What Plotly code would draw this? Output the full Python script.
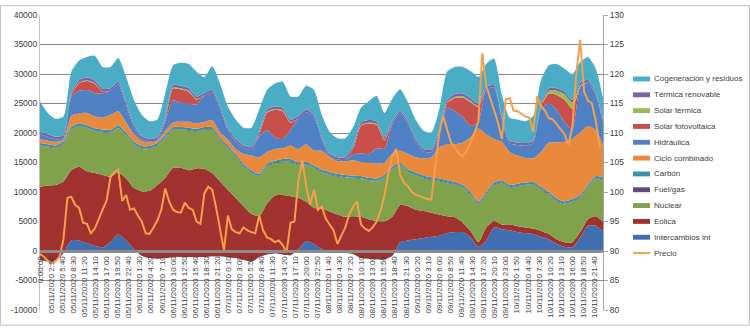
import pandas as pd
import plotly.graph_objects as go

# Generation mix sampled every 2 h (MW); last sample is 10/11/2020 23:50
gen_time = list(pd.date_range("2020-11-05 00:00", periods=72, freq="2h")) + [pd.Timestamp("2020-11-10 23:50")]
# Hourly price (EUR/MWh)
price_time = list(pd.date_range("2020-11-05 00:00", periods=144, freq="h"))

intercambios = [-1500, -1800, -1800, -300, 1800, 1800, 1300, 900, 600, 1500, 2800, 1800, 400,
                -800, -1200, -1300, -1200, -1000, -1000, -1000, -1000, -1000, -900, -900, -1000,
                -1200, -1500, -1800, -1000, -600, -400, -600, -700, 300, 1700, 1200, 300,
                -200, -300, -300, -500, -1200, -1300, -1400, -1400, -800, 1500, 1800, 2000,
                2200, 2400, 2600, 3000, 3200, 3200, 2300, 700, 1800, 4000, 3700, 3500,
                3200, 3000, 2900, 2400, 2000, 1200, 700, 600, 2300, 4300, 4300, 3400]

eolica = [12400, 12900, 13000, 12100, 11900, 12500, 12200, 12300, 12300, 11100, 10500, 10500, 10300,
          10900, 11400, 12500, 13600, 15100, 15100, 14700, 15000, 14900, 14100, 12700, 11400,
          10200, 9100, 8100, 6900, 8600, 9800, 10100, 10000, 8700, 6700, 6100, 6900,
          6900, 6500, 6100, 6400, 7000, 6700, 6500, 6400, 6600, 6300, 5800, 5000,
          4600, 4100, 3600, 2900, 2500, 1600, 1100, 800, 2200, 1100, 800, 1000,
          1000, 1000, 900, 1000, 900, 800, 800, 900, 900, 1100, 1600, 1600]

nuclear = [6900, 6500, 6200, 6300, 6800, 6800, 7300, 7100, 7200, 7400, 7500, 7300, 7300,
           7200, 7100, 6600, 6800, 6400, 6400, 6700, 6200, 6600, 7300, 6900, 7000,
           6900, 6700, 6900, 6700, 6300, 5400, 5600, 5800, 5500, 6200, 6700, 6100,
           6200, 6400, 6600, 6400, 6400, 6500, 6700, 7400, 8000, 6700, 5700, 5800,
           5500, 5500, 5600, 5600, 5500, 5900, 6100, 6400, 5500, 6000, 7000, 6200,
           6700, 7100, 7400, 7000, 6600, 6400, 6400, 6800, 5800, 5300, 6300, 7000]

fuel_gas = [100, 100, 100, 100, 100, 100, 100, 100, 100, 100, 100, 100, 100,
            100, 100, 100, 100, 100, 100, 100, 100, 100, 100, 100, 100,
            100, 100, 100, 100, 100, 100, 100, 100, 100, 100, 100, 100,
            100, 100, 100, 100, 100, 100, 100, 100, 100, 100, 100, 100,
            100, 100, 100, 100, 100, 100, 100, 100, 100, 100, 100, 100,
            100, 100, 100, 100, 100, 100, 100, 100, 100, 100, 100, 100]

carbon = [400, 400, 400, 400, 400, 400, 400, 400, 400, 400, 400, 400, 400,
          400, 400, 400, 400, 400, 400, 400, 400, 400, 400, 400, 400,
          400, 400, 400, 400, 400, 400, 400, 400, 400, 400, 400, 400,
          400, 400, 400, 400, 400, 400, 400, 400, 400, 400, 400, 400,
          400, 400, 400, 400, 400, 400, 400, 400, 400, 400, 400, 400,
          400, 400, 400, 400, 400, 400, 400, 400, 400, 400, 400, 400]

ciclo_combinado = [700, 600, 600, 300, 1900, 1700, 2100, 2000, 2000, 2600, 2400, 1700, 1300,
                   900, 600, 400, 700, 800, 900, 1000, 900, 900, 1200, 900, 1000,
                   900, 1700, 2500, 2800, 2000, 2000, 1800, 2300, 2300, 3000, 2500, 3200,
                   2500, 2150, 2300, 2600, 2400, 2600, 2500, 2100, 2200, 2000, 2700, 2600,
                   2900, 3400, 5300, 6100, 6400, 7200, 9300, 12350, 9800, 7400, 6500, 5600,
                   4800, 4200, 4000, 5900, 8400, 9500, 10100, 10200, 10600, 10000, 7800, 5400]

hidraulica = [750, 650, 450, 250, 3300, 3850, 3900, 4000, 4100, 4050, 4550, 2950, 1250,
              350, 150, 150, 1550, 3750, 3200, 3100, 3250, 4450, 4650, 3950, 1550,
              1250, 950, 950, 3450, 3650, 2000, 1600, 2650, 5150, 5450, 5650, 1850,
              150, 200, 250, 900, 1450, 1400, 2600, 2350, 4950, 6250, 5050, 2650,
              1150, 850, 2450, 6150, 5650, 4300, 1900, 1150, 7600, 8650, 3850, 1450,
              1750, 2050, 2550, 7250, 6650, 5550, 3350, 1650, 7650, 7350, 5850, 3950]

solar_fv = [0, 0, 0, 0, 300, 1300, 1500, 1500, 300, 0, 0, 0, 0,
            0, 0, 0, 200, 2000, 2300, 2000, 800, 0, 0, 0, 0,
            0, 0, 0, 300, 3000, 4600, 4700, 1200, 0, 0, 0, 0,
            0, 0, 0, 1000, 4700, 5200, 4000, 1400, 100, 0, 0, 0,
            0, 0, 0, 800, 2200, 3300, 4000, 2500, 0, 0, 0, 0,
            0, 0, 0, 500, 1600, 2500, 3800, 3500, 0, 0, 0, 0]

solar_termica = [0, 0, 0, 0, 50, 100, 150, 150, 50, 0, 0, 0, 0,
                 0, 0, 0, 0, 100, 150, 150, 100, 0, 0, 0, 0,
                 0, 0, 0, 0, 100, 150, 150, 100, 0, 0, 0, 0,
                 0, 0, 0, 50, 100, 150, 150, 100, 0, 0, 0, 0,
                 0, 0, 0, 100, 200, 250, 250, 150, 50, 0, 0, 0,
                 0, 0, 0, 100, 500, 700, 900, 1000, 300, 0, 0, 0]

termica_renovable = [450, 450, 450, 450, 450, 450, 450, 450, 450, 450, 450, 450, 450,
                     450, 450, 450, 450, 450, 450, 450, 450, 450, 450, 450, 450,
                     450, 450, 450, 450, 450, 450, 450, 450, 450, 450, 450, 450,
                     450, 450, 450, 450, 450, 450, 450, 450, 450, 450, 450, 450,
                     450, 450, 450, 450, 450, 450, 450, 450, 450, 450, 450, 450,
                     450, 450, 450, 450, 450, 450, 450, 450, 450, 450, 450, 450]

cogeneracion = [5200, 3600, 3000, 3200, 3400, 3300, 3500, 4200, 3700, 3600, 4000, 4300, 4100,
                3600, 3000, 3000, 4100, 3400, 3900, 4100, 4200, 2700, 4000, 3900, 3600,
                3300, 3000, 3300, 3900, 3300, 3900, 4400, 3900, 3300, 4000, 4200, 3800,
                3700, 3200, 3200, 3200, 2500, 3200, 4300, 4100, 3800, 3700, 3200, 3200,
                3100, 2900, 3500, 4800, 4600, 4500, 4600, 4500, 3800, 4500, 3700, 3900,
                3900, 3700, 4200, 3900, 3900, 4100, 3900, 4400, 3500, 3900, 4100, 3600]

precio = [89.5, 89.0, 88.3, 88.0, 88.3, 89.0, 92.0, 99.0, 99.2, 97.8,
          97.3, 94.8, 94.6, 93.0, 93.8, 95.5, 97.0, 98.5, 102.5, 103.4,
          103.8, 98.5, 99.5, 97.0, 97.2, 96.0, 95.0, 93.0, 92.9, 94.0,
          95.2, 97.0, 100.6, 98.4, 97.0, 96.6, 96.5, 98.2, 97.3, 97.0,
          95.0, 94.6, 99.8, 100.9, 100.4, 97.3, 93.4, 90.1, 96.0, 93.7,
          93.2, 93.0, 94.0, 93.5, 93.2, 93.0, 96.0, 93.5, 92.3, 92.0,
          91.5, 91.8, 91.0, 89.8, 94.8, 95.0, 101.8, 105.4, 101.0, 97.9,
          100.4, 97.0, 97.5, 95.5, 94.5, 93.5, 91.2, 92.5, 94.0, 96.2,
          97.5, 98.4, 94.5, 93.8, 93.4, 94.0, 95.0, 96.8, 99.5, 103.0,
          106.0, 107.3, 103.0, 101.5, 101.0, 100.0, 99.5, 99.3, 99.0, 98.8,
          98.7, 104.0, 110.0, 112.9, 110.5, 108.4, 107.5, 106.5, 106.0, 107.0,
          108.4, 110.0, 112.0, 123.5, 118.0, 116.0, 114.0, 111.8, 109.0, 115.7,
          115.9, 113.8, 113.7, 113.2, 112.8, 112.6, 110.2, 116.2, 114.5, 113.8,
          112.5, 112.3, 111.5, 110.5, 109.8, 108.0, 111.0, 120.0, 125.8, 117.0,
          115.5, 115.0, 112.0, 107.5]

# Category-axis labels every 170 minutes
tick_times = list(pd.date_range("2020-11-05 00:00", periods=51, freq="170min"))
tick_labels = ["0:00:00", "05/11/2020 2:50", "05/11/2020 5:40", "05/11/2020 8:30", "05/11/2020 11:20",
               "05/11/2020 14:10", "05/11/2020 17:00", "05/11/2020 19:50", "05/11/2020 22:40",
               "06/11/2020 1:30", "06/11/2020 4:20", "06/11/2020 7:10", "06/11/2020 10:00",
               "06/11/2020 12:50", "06/11/2020 15:40", "06/11/2020 18:30", "06/11/2020 21:20",
               "07/11/2020 0:10", "07/11/2020 3:00", "07/11/2020 5:50", "07/11/2020 8:40",
               "07/11/2020 11:30", "07/11/2020 14:20", "07/11/2020 17:10", "07/11/2020 20:00",
               "07/11/2020 22:50", "08/11/2020 1:40", "08/11/2020 4:30", "08/11/2020 7:20",
               "08/11/2020 10:10", "08/11/2020 13:00", "08/11/2020 15:50", "08/11/2020 18:40",
               "08/11/2020 21:30", "09/11/2020 0:20", "09/11/2020 3:10", "09/11/2020 6:00",
               "09/11/2020 8:50", "09/11/2020 11:40", "09/11/2020 14:30", "09/11/2020 17:20",
               "09/11/2020 20:10", "09/11/2020 23:00", "10/11/2020 1:50", "10/11/2020 4:40",
               "10/11/2020 7:30", "10/11/2020 10:20", "10/11/2020 13:10", "10/11/2020 16:00",
               "10/11/2020 18:50", "10/11/2020 21:40"]
mw_ticks = [-10000, -5000, 0, 5000, 10000, 15000, 20000, 25000, 30000, 35000, 40000]
mw_labels = ["-10000", "-5000", "0", "5000", "10000", "15000", "20000", "25000", "30000", "35000", "40000"]
price_ticks = [80, 85, 90, 95, 100, 105, 110, 115, 120, 125, 130]

# Stacked from the bottom up
stack = [
    ("Intercambios int", intercambios, "#3F6FB0"),
    ("Eólica", eolica, "#A0312E"),
    ("Nuclear", nuclear, "#7FA24A"),
    ("Fuel/gas", fuel_gas, "#604A7B"),
    ("Carbón", carbon, "#3B93A8"),
    ("Ciclo combinado", ciclo_combinado, "#E8893C"),
    ("Hidráulica", hidraulica, "#4F81C4"),
    ("Solar fotovoltaica", solar_fv, "#C94F4B"),
    ("Solar térmica", solar_termica, "#9BBB59"),
    ("Térmica renovable", termica_renovable, "#8064A2"),
    ("Cogeneración y residuos", cogeneracion, "#4BACC6"),
]
price_color = "#F5A04E"

fig = go.Figure()
for name, vals, col in stack:
    fig.add_trace(go.Scatter(x=gen_time, y=vals, name=name, stackgroup="gen", mode="none",
                             fillcolor=col, line=dict(width=0, shape="spline", smoothing=0.6),
                             showlegend=False))
fig.add_trace(go.Scatter(x=price_time, y=precio, name="Precio", yaxis="y2", mode="lines",
                         line=dict(color=price_color, width=2), showlegend=False))

W, H = 750, 328
L, R, T, B = 40, 147, 10, 16
pw, ph = W - L - R, H - T - B


def paper_x(px):
    return (px - L) / pw


def paper_y(py):
    return (H - B - py) / ph


text_col = "#404040"
fig.update_layout(
    width=W, height=H, margin=dict(l=L, r=R, t=T, b=B),
    paper_bgcolor="white", plot_bgcolor="white", showlegend=False,
    font=dict(family="Liberation Sans, Arial, sans-serif", size=9, color=text_col),
    xaxis=dict(type="date", range=[gen_time[0], gen_time[-1]], tickmode="array",
               tickvals=tick_times, ticktext=tick_labels, tickangle=-90,
               tickfont=dict(size=8, color=text_col), anchor="free", position=0.2,
               showline=True, linecolor="#8C8C8C", linewidth=3, showgrid=False,
               zeroline=False, ticks=""),
    yaxis=dict(range=[-10000, 40000], tickmode="array", tickvals=mw_ticks, ticktext=mw_labels,
               showgrid=True, gridcolor="#8C8C8C", gridwidth=1, zeroline=False,
               showline=True, linecolor="#BFBFBF", ticks="", tickfont=dict(size=8.5, color=text_col)),
    yaxis2=dict(overlaying="y", side="right", anchor="x", range=[80, 130], tickmode="array",
                tickvals=price_ticks, showgrid=False, zeroline=False, showline=True,
                linecolor="#A6A6A6", ticks="outside", ticklen=4, tickcolor="#A6A6A6",
                tickfont=dict(size=8.5, color=text_col)),
)

# Legend drawn as swatches + labels on the right
shapes = []
annotations = []
legend_items = [(n, c) for n, _, c in reversed(stack)] + [("Precio", price_color)]
row0, step = 75.5, 16.2
for i, (name, col) in enumerate(legend_items):
    yc = row0 + i * step
    if name == "Precio":
        shapes.append(dict(type="line", xref="paper", yref="paper",
                           x0=paper_x(633), x1=paper_x(650), y0=paper_y(yc), y1=paper_y(yc),
                           line=dict(color=col, width=2)))
    else:
        shapes.append(dict(type="rect", xref="paper", yref="paper",
                           x0=paper_x(633), x1=paper_x(650), y0=paper_y(yc - 2.5), y1=paper_y(yc + 2.5),
                           fillcolor=col, line=dict(width=0)))
    annotations.append(dict(text=name, xref="paper", yref="paper", x=paper_x(652), y=paper_y(yc),
                            xanchor="left", yanchor="middle", showarrow=False,
                            font=dict(size=8, color=text_col)))

# Chart border
shapes.append(dict(type="rect", xref="paper", yref="paper",
                   x0=paper_x(0.5), x1=paper_x(W - 0.5), y0=paper_y(H - 0.5), y1=paper_y(0.5),
                   line=dict(color="#BFBFBF", width=1), fillcolor="rgba(0,0,0,0)", layer="above"))

fig.update_layout(shapes=shapes, annotations=annotations)
fig.write_html("out.html")
